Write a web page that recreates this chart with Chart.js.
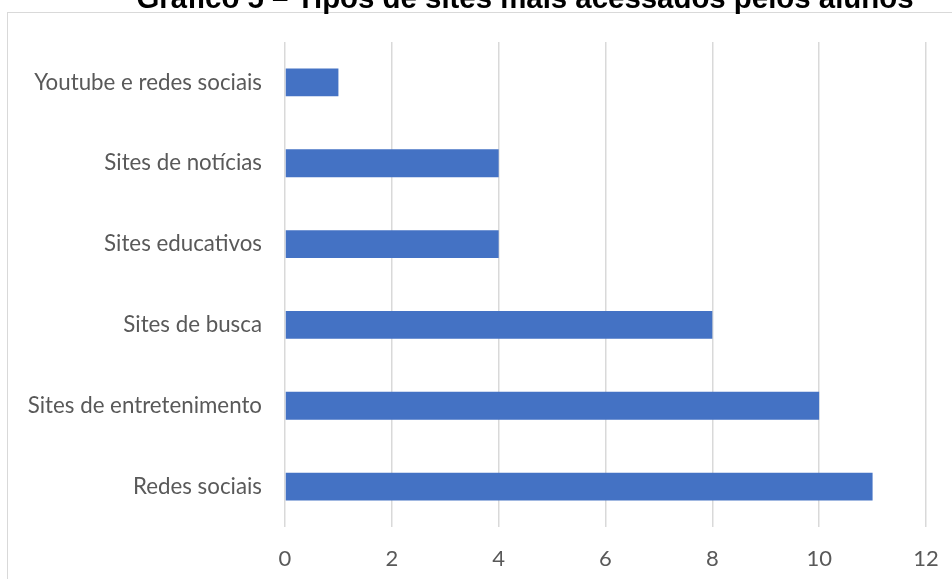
<!DOCTYPE html>
<html>
<head>
<meta charset="utf-8">
<script src="https://cdn.jsdelivr.net/npm/chart.js@4.4.1/dist/chart.umd.min.js"></script>
<style>
  html, body { margin: 0; padding: 0; background: #fff; }
  #wrap { position: relative; width: 952px; height: 579px; overflow: hidden; }
</style>
</head>
<body>
<div id="wrap"><canvas id="chart" width="952" height="579"></canvas></div>
<script>
// Données du graphique
const chartTitle = 'Gráfico 5 – Tipos de sites mais acessados pelos alunos';
const categories = [
    'Youtube e redes sociais',
    'Sites de notícias',
    'Sites educativos',
    'Sites de busca',
    'Sites de entretenimento',
    'Redes sociais'
];
const values = [1, 4, 4, 8, 10, 11];
const xMin = 0;
const xMax = 12;
const xStep = 2;

// Cadre et titre (coupés en haut comme sur l'image)
const framePlugin = {
    id: 'frame',
    beforeDraw(chart) {
        const ctx = chart.ctx;
        ctx.save();
        ctx.fillStyle = '#ffffff';
        ctx.fillRect(0, 0, chart.width, chart.height);
        ctx.strokeStyle = '#d9d9d9';
        ctx.lineWidth = 1;
        ctx.strokeRect(7.5, 12.5, 2000, 2000);
        ctx.fillStyle = '#000000';
        ctx.font = 'bold 29.4px "Liberation Sans", Arial, sans-serif';
        ctx.textAlign = 'center';
        ctx.textBaseline = 'alphabetic';
        ctx.fillText(chartTitle, 525, 8);
        ctx.restore();
    }
};

const ctx = document.getElementById('chart').getContext('2d');
new Chart(ctx, {
    type: 'bar',
    data: {
        labels: categories,
        datasets: [{
            data: values,
            backgroundColor: '#4472c4',
            borderWidth: 0,
            barPercentage: 0.345,
            categoryPercentage: 1
        }]
    },
    options: {
        indexAxis: 'y',
        responsive: false,
        animation: false,
        layout: {
            padding: { top: 42, right: 26, bottom: 0, left: 0 }
        },
        plugins: {
            legend: { display: false },
            tooltip: { enabled: false }
        },
        scales: {
            x: {
                min: xMin,
                max: xMax,
                grid: {
                    color: '#d9d9d9',
                    lineWidth: 1.5,
                    drawTicks: false
                },
                border: { display: false },
                ticks: {
                    stepSize: xStep,
                    color: '#595959',
                    padding: 19,
                    font: { family: 'Lato', size: 22 }
                },
                afterFit(scale) {
                    scale.height = 52;
                    scale.paddingLeft = 0;
                    scale.paddingRight = 0;
                }
            },
            y: {
                grid: { display: false, drawTicks: false },
                border: { display: false },
                ticks: {
                    color: '#595959',
                    padding: 23,
                    font: { family: 'Lato', size: 22.3 }
                },
                afterFit(scale) {
                    scale.width = 285;
                    scale.paddingTop = 0;
                    scale.paddingBottom = 0;
                }
            }
        }
    },
    plugins: [framePlugin]
});
</script>
</body>
</html>
